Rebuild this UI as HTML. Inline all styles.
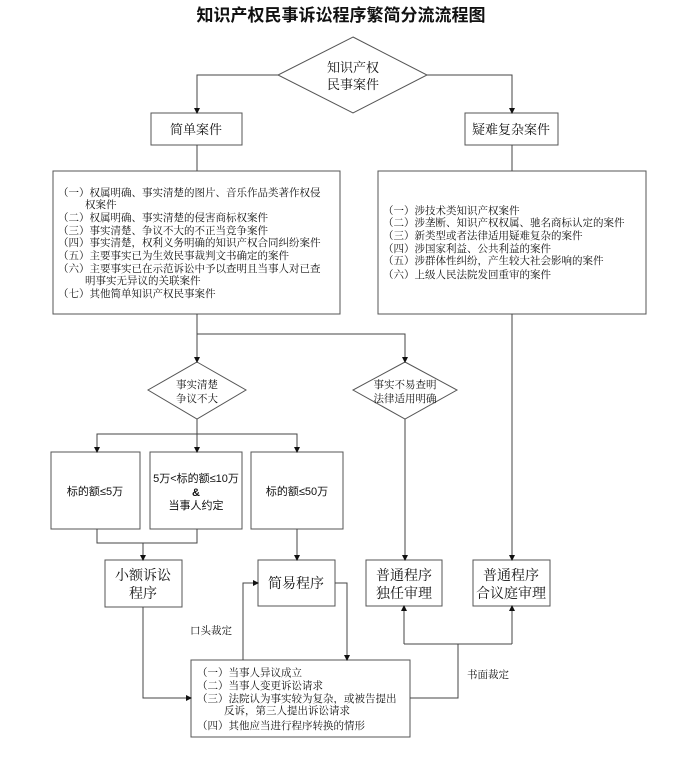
<!DOCTYPE html>
<html><head><meta charset="utf-8"><style>
body{margin:0;background:#fff}
svg{display:block}
text{font-family:"Liberation Serif","Noto Serif CJK SC",serif;fill:#111}
.s{font-size:10.5px}
.m{font-size:13px}
.l{font-size:14px}
.t{font-family:"Liberation Sans","Noto Sans CJK SC",sans-serif;font-weight:bold;font-size:17px}
.b{font-family:"Liberation Sans","Noto Sans CJK SC",sans-serif;font-size:11px}
</style></head><body>
<svg width="683" height="774" viewBox="0 0 683 774" xmlns="http://www.w3.org/2000/svg">
<defs><marker id="a" markerWidth="6" markerHeight="6" refX="5" refY="3" orient="auto" markerUnits="userSpaceOnUse"><path d="M0,0 L6,3 L0,6z" fill="#111"/></marker></defs>
<g fill="none" stroke="#555" stroke-width="1">
<polygon points="353,37 427,75 353,113 278,75" fill="#fff"/>
<rect x="151" y="113" width="91" height="32"/>
<rect x="465" y="113" width="93" height="32"/>
<rect x="53" y="171" width="287" height="143"/>
<rect x="378" y="171" width="268" height="143"/>
<polygon points="197,362 246,390 197,419 148,390"/>
<polygon points="405,362 457,390 405,419 353,390"/>
<rect x="51" y="452" width="89" height="77"/>
<rect x="150" y="452" width="92" height="77"/>
<rect x="251" y="452" width="92" height="77"/>
<rect x="105" y="560" width="77" height="47"/>
<rect x="258" y="560" width="77" height="46"/>
<rect x="366" y="560" width="76" height="46"/>
<rect x="473" y="560" width="77" height="46"/>
<rect x="191" y="660" width="219" height="77"/>
</g>
<g fill="none" stroke="#444" stroke-width="1">
<path d="M278,75 H197 V113" marker-end="url(#a)"/>
<path d="M427,75 H512 V113" marker-end="url(#a)"/>
<path d="M197,145 V171"/>
<path d="M512,145 V171"/>
<path d="M197,314 V362" marker-end="url(#a)"/>
<path d="M197,334 H405 V362" marker-end="url(#a)"/>
<path d="M197,419 V434 H97 V452" marker-end="url(#a)"/>
<path d="M197,434 V452" marker-end="url(#a)"/>
<path d="M197,434 H297 V452" marker-end="url(#a)"/>
<path d="M97,529 V543 H197 V529"/>
<path d="M143,543 V560" marker-end="url(#a)"/>
<path d="M297,529 V560" marker-end="url(#a)"/>
<path d="M405,419 V560" marker-end="url(#a)"/>
<path d="M512,314 V560" marker-end="url(#a)"/>
<path d="M143,607 V698 H191" marker-end="url(#a)"/>
<path d="M243,660 V583 H258" marker-end="url(#a)"/>
<path d="M335,583 H347 V660" marker-end="url(#a)"/>
<path d="M410,698 H458 V644"/>
<path d="M404,644 H512"/>
<path d="M404,644 V606" marker-end="url(#a)"/>
<path d="M512,644 V606" marker-end="url(#a)"/>
</g>
<text class="t" x="341" y="21" text-anchor="middle">知识产权民事诉讼程序繁简分流流程图</text>
<text class="m" x="353" y="72" text-anchor="middle">知识产权</text>
<text class="m" x="353" y="89" text-anchor="middle">民事案件</text>
<text class="m" x="196" y="134" text-anchor="middle">简单案件</text>
<text class="m" x="511" y="134" text-anchor="middle">疑难复杂案件</text>
<g class="s">
<text x="58" y="196">（一）权属明确、事实清楚的图片、音乐作品类著作权侵</text>
<text x="85" y="208">权案件</text>
<text x="58" y="221">（二）权属明确、事实清楚的侵害商标权案件</text>
<text x="58" y="234">（三）事实清楚、争议不大的不正当竞争案件</text>
<text x="58" y="246">（四）事实清楚，权利义务明确的知识产权合同纠纷案件</text>
<text x="58" y="259">（五）主要事实已为生效民事裁判文书确定的案件</text>
<text x="58" y="272">（六）主要事实已在示范诉讼中予以查明且当事人对已查</text>
<text x="85" y="284">明事实无异议的关联案件</text>
<text x="58" y="297">（七）其他简单知识产权民事案件</text>
<text x="383" y="214">（一）涉技术类知识产权案件</text>
<text x="383" y="226">（二）涉垄断、知识产权权属、驰名商标认定的案件</text>
<text x="383" y="239">（三）新类型或者法律适用疑难复杂的案件</text>
<text x="383" y="252">（四）涉国家利益、公共利益的案件</text>
<text x="383" y="264">（五）涉群体性纠纷，产生较大社会影响的案件</text>
<text x="383" y="278">（六）上级人民法院发回重审的案件</text>
<text x="197" y="676">（一）当事人异议成立</text>
<text x="197" y="689">（二）当事人变更诉讼请求</text>
<text x="197" y="702">（三）法院认为事实较为复杂，或被告提出</text>
<text x="224" y="714">反诉，第三人提出诉讼请求</text>
<text x="197" y="729">（四）其他应当进行程序转换的情形</text>
</g>
<text class="s" x="197" y="388" text-anchor="middle">事实清楚</text>
<text class="s" x="197" y="402" text-anchor="middle">争议不大</text>
<text class="s" x="405" y="388" text-anchor="middle">事实不易查明</text>
<text class="s" x="405" y="402" text-anchor="middle">法律适用明确</text>
<text class="b" x="95" y="495" text-anchor="middle">标的额≤5万</text>
<text class="b" x="196" y="482" text-anchor="middle">5万&lt;标的额≤10万</text>
<text class="b" x="196" y="496" text-anchor="middle" font-weight="bold">&amp;</text>
<text class="b" x="196" y="509" text-anchor="middle">当事人约定</text>
<text class="b" x="297" y="495" text-anchor="middle">标的额≤50万</text>
<text class="l" x="143" y="580" text-anchor="middle">小额诉讼</text>
<text class="l" x="143" y="598" text-anchor="middle">程序</text>
<text class="l" x="296" y="588" text-anchor="middle">简易程序</text>
<text class="l" x="404" y="580" text-anchor="middle">普通程序</text>
<text class="l" x="404" y="598" text-anchor="middle">独任审理</text>
<text class="l" x="511" y="580" text-anchor="middle">普通程序</text>
<text class="l" x="511" y="598" text-anchor="middle">合议庭审理</text>
<text class="s" x="190" y="634">口头裁定</text>
<text class="s" x="467" y="678">书面裁定</text>
</svg>
</body></html>
